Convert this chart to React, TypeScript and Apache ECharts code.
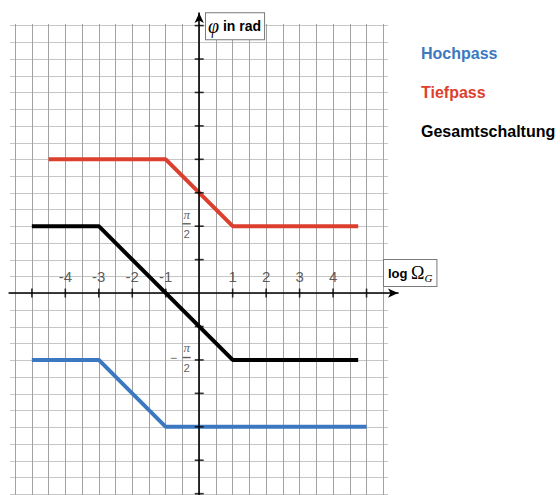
import React, { useEffect, useRef } from "react";
import * as echarts from "echarts";

// Data (phase values in units of π)
const hochpassX = [-5, -3, -1, 5];
const hochpassY = [-0.5, -0.5, -1, -1];
const tiefpassX = [-4.5, -1, 1, 4.75];
const tiefpassY = [1, 1, 0.5, 0.5];
const gesamtX = [-5, -3, 1, 4.75];
const gesamtY = [0.5, 0.5, -0.5, -0.5];

const xTicks = [-5, -4, -3, -2, -1, 1, 2, 3, 4, 5];
const xTickLabels = [-4, -3, -2, -1, 1, 2, 3, 4];
const yTicks = [-1.5, -1.25, -1, -0.75, -0.5, -0.25, 0.25, 0.5, 0.75, 1, 1.25, 1.5, 1.75, 2];
const yTickLabels = [0.5, -0.5]; // labelled as ±π/2

const seriesNames = ["Hochpass", "Tiefpass", "Gesamtschaltung"];
const seriesColors = ["#3c78c0", "#dc3f2e", "#000000"];

// layout
const X_UNIT = 33.47;
const Y_UNIT = 133.9; // px per π
const OX = 199.2;
const OY = 293.4;
const SANS = "'Liberation Sans', Arial, Helvetica, sans-serif";
const SERIF = "'Liberation Serif', 'Times New Roman', serif";

function rect(x0: number, x1: number, y0: number, y1: number) {
  return {
    left: OX + x0 * X_UNIT,
    top: OY - y1 * Y_UNIT,
    width: (x1 - x0) * X_UNIT,
    height: (y1 - y0) * Y_UNIT,
    containLabel: false,
  };
}

const zip = (xs: number[], ys: number[]) => xs.map((x, i) => [x, ys[i]]);

export default function App() {
  const ref = useRef<HTMLDivElement>(null);
  useEffect(() => {
    if (!ref.current) return;
    const chart = echarts.init(ref.current, undefined, { renderer: "svg" });
    const vRange = [-5.5, 5.5, -1.51, 2.012];
    const hRange = [-5.65, 5.64, -1.5, 2];
    const mRange = [-5.68, 5.94, -1.51, 2.094];
    const hidden = { axisLine: { show: false }, axisTick: { show: false }, axisLabel: { show: false } };
    const FX = -12.5; // fraction centre offset from the y axis
    const lines = seriesNames.map((name, i) => ({
      name,
      type: "line",
      xAxisIndex: 2,
      yAxisIndex: 2,
      data: zip([hochpassX, tiefpassX, gesamtX][i], [hochpassY, tiefpassY, gesamtY][i]),
      symbol: "none",
      color: seriesColors[i],
      lineStyle: { color: seriesColors[i], width: 4 },
      z: 3,
      silent: true,
    }));
    const base = { type: "scatter", xAxisIndex: 2, yAxisIndex: 2, silent: true, z: 6 };
    chart.setOption({
      animation: false,
      grid: [
        rect(vRange[0], vRange[1], vRange[2], vRange[3]),
        rect(hRange[0], hRange[1], hRange[2], hRange[3]),
        rect(mRange[0], mRange[1], mRange[2], mRange[3]),
      ],
      xAxis: [
        {
          gridIndex: 0, type: "value", min: vRange[0], max: vRange[1], interval: 0.5, ...hidden,
          splitLine: { show: true, lineStyle: { color: "#a2a2a2", width: 1 } },
        },
        { gridIndex: 1, type: "value", min: hRange[0], max: hRange[1], show: false },
        {
          gridIndex: 2, type: "value", min: mRange[0], max: mRange[1], z: 5,
          axisLine: { onZero: true, symbol: ["none", "arrow"], symbolSize: [7, 10], lineStyle: { color: "#000", width: 1.6 } },
          axisTick: { show: false }, axisLabel: { show: false }, splitLine: { show: false },
        },
      ],
      yAxis: [
        { gridIndex: 0, type: "value", min: vRange[2], max: vRange[3], show: false },
        {
          gridIndex: 1, type: "value", min: hRange[2], max: hRange[3], interval: 0.125, ...hidden,
          splitLine: { show: true, lineStyle: { color: "#c6c6c6", width: 1 } },
        },
        {
          gridIndex: 2, type: "value", min: mRange[2], max: mRange[3], z: 5,
          axisLine: { onZero: true, symbol: ["none", "arrow"], symbolSize: [7, 10], lineStyle: { color: "#000", width: 1.6 } },
          axisTick: { show: false }, axisLabel: { show: false }, splitLine: { show: false },
        },
      ],
      legend: {
        orient: "vertical",
        left: 411,
        top: 40.5,
        itemWidth: 0,
        itemHeight: 16,
        itemGap: 22.8,
        icon: "none",
        selectedMode: false,
        textStyle: { fontFamily: SANS, fontSize: 16, fontWeight: "bold", lineHeight: 16 },
        data: seriesNames.map((name, i) => ({ name, icon: "none", textStyle: { color: seriesColors[i] } })),
      },
      series: [
        ...lines,
        { ...base, data: xTicks.map((v) => [v, 0]), symbol: "rect", symbolSize: [1.6, 9], itemStyle: { color: "#000" } },
        { ...base, data: yTicks.map((v) => [0, v]), symbol: "rect", symbolSize: [9, 1.6], itemStyle: { color: "#000" } },
        {
          ...base,
          data: xTickLabels.map((v) => [v, 0]), symbolSize: 0,
          label: {
            show: true, position: "top", distance: 9,
            formatter: (p: any) => String(p.value[0]),
            fontFamily: SANS, fontSize: 15, lineHeight: 15, color: "#333",
          },
        },
        // fraction bar of ±π/2 (with minus sign for the negative one)
        {
          ...base,
          data: yTickLabels.map((v) => [0, v]), symbol: "rect", symbolSize: [8, 1.4],
          symbolOffset: [FX, -2.4], itemStyle: { color: "#333" },
          label: {
            show: true, position: "inside", offset: [-13.3, 0],
            formatter: (p: any) => (p.value[1] < 0 ? "−" : ""),
            fontFamily: SANS, fontSize: 12, lineHeight: 10, color: "#333",
          },
        },
        // numerator π
        {
          ...base,
          data: yTickLabels.map((v) => [0, v]), symbolSize: 0,
          label: {
            show: true, position: "inside", offset: [FX, -12],
            formatter: () => "π",
            fontFamily: SERIF, fontStyle: "italic", fontSize: 13, lineHeight: 11, color: "#333",
          },
        },
        // denominator 2
        {
          ...base,
          data: yTickLabels.map((v) => [0, v]), symbolSize: 0,
          label: {
            show: true, position: "inside", offset: [FX, 8],
            formatter: () => "2",
            fontFamily: SANS, fontSize: 11.5, lineHeight: 11, color: "#333",
          },
        },
      ],
      graphic: [
        {
          type: "text", x: 206, y: 13.3, z: 100,
          style: {
            text: "{phi|φ}{t| in rad}",
            rich: {
              phi: { fontFamily: SERIF, fontStyle: "italic", fontSize: 20, lineHeight: 22, fill: "#000" },
              t: { fontFamily: SANS, fontSize: 14, fontWeight: "bold", lineHeight: 22, fill: "#000" },
            },
            backgroundColor: "#fff", borderColor: "#7a7a7a", borderWidth: 1, padding: [2, 3, 2, 2],
            align: "left", verticalAlign: "top",
          },
        },
        {
          type: "text", x: 384, y: 260, z: 100,
          style: {
            text: "{log|log }{om|Ω}{g|G}",
            rich: {
              log: { fontFamily: SANS, fontSize: 13, fontWeight: "bold", lineHeight: 22, fill: "#000" },
              om: { fontFamily: SERIF, fontSize: 18, lineHeight: 22, fill: "#000" },
              g: { fontFamily: SERIF, fontStyle: "italic", fontSize: 11, lineHeight: 22, padding: [9, 0, 0, 0], fill: "#000" },
            },
            backgroundColor: "#fff", borderColor: "#7a7a7a", borderWidth: 1, padding: [2, 4, 2, 4],
            align: "left", verticalAlign: "top",
          },
        },
      ],
    });
    return () => chart.dispose();
  }, []);
  return (
    <div
      ref={ref}
      style={{ position: "fixed", left: 0, top: 0, width: 560, height: 495, background: "#fff" }}
    />
  );
}
